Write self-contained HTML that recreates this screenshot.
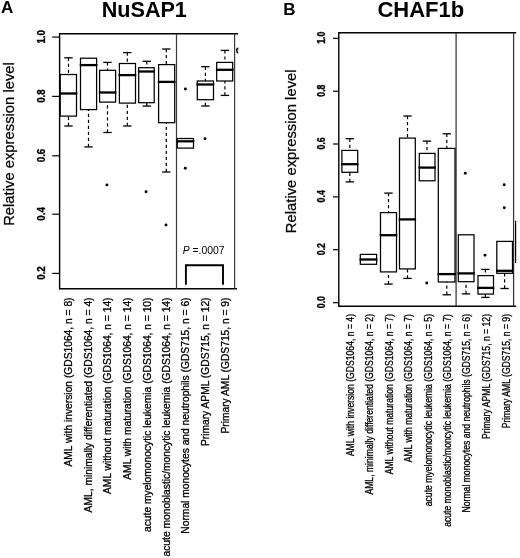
<!DOCTYPE html>
<html><head><meta charset="utf-8"><title>NuSAP1 and CHAF1b expression</title>
<style>
html,body{margin:0;padding:0;background:#fff;}
body{width:520px;height:558px;overflow:hidden;}
svg{display:block;}
text{font-family:"Liberation Sans", Arial, sans-serif;fill:#000;}
.fr{stroke:#000;stroke-width:1.4;}
.dv{stroke:#3a3a3a;stroke-width:1.2;}
.dvb{stroke:#333;stroke-width:1.25;}
.tk{stroke:#000;stroke-width:1.2;}
.bx{fill:none;stroke:#000;stroke-width:1.25;}
.md{stroke:#000;stroke-width:2.3;}
.w{stroke:#000;stroke-width:1.2;stroke-dasharray:3.2 2.8;}
.cap{stroke:#000;stroke-width:1.3;}
.pt{fill:#000;}
.hv{stroke:#000;stroke-width:0.3;}
.hv2{stroke:#000;stroke-width:0.35;}
.hv3{stroke:#000;stroke-width:0.25;}
</style></head>
<body>
<svg width="520" height="558" viewBox="0 0 520 558">
<rect width="520" height="558" fill="#fff"/>
<text x="1.0" y="12.7" font-size="17" font-weight="bold">A</text>
<text x="144.3" y="16.6" font-size="21.6" font-weight="bold" text-anchor="middle">NuSAP1</text>
<text transform="translate(13.6 144.0) rotate(-90)" text-anchor="middle" font-size="14.8" class="hv3">Relative expression level</text>
<line x1="59.6" y1="33.8" x2="238" y2="33.8" class="fr"/>
<line x1="59.6" y1="288.7" x2="237" y2="288.7" class="fr"/>
<line x1="59.6" y1="33.1" x2="59.6" y2="289.4" class="fr"/>
<line x1="234.6" y1="33.8" x2="234.6" y2="288.7" class="dv"/>
<line x1="176.5" y1="33.8" x2="176.5" y2="288.7" class="dv"/>
<path d="M238.3,48.2 C236.2,48.4 236.2,52.6 238.3,52.8" fill="none" stroke="#000" stroke-width="1.5"/>
<line x1="52.2" y1="37.1" x2="59.6" y2="37.1" class="tk"/>
<text transform="translate(44.6 36.800000000000004) rotate(-90) scale(0.92 1)" text-anchor="middle" font-size="10.6" font-weight="bold" class="hv2">1.0</text>
<line x1="52.2" y1="96.4" x2="59.6" y2="96.4" class="tk"/>
<text transform="translate(44.6 96.10000000000001) rotate(-90) scale(0.92 1)" text-anchor="middle" font-size="10.6" font-weight="bold" class="hv2">0.8</text>
<line x1="52.2" y1="155.8" x2="59.6" y2="155.8" class="tk"/>
<text transform="translate(44.6 155.5) rotate(-90) scale(0.92 1)" text-anchor="middle" font-size="10.6" font-weight="bold" class="hv2">0.6</text>
<line x1="52.2" y1="214.2" x2="59.6" y2="214.2" class="tk"/>
<text transform="translate(44.6 213.89999999999998) rotate(-90) scale(0.92 1)" text-anchor="middle" font-size="10.6" font-weight="bold" class="hv2">0.4</text>
<line x1="52.2" y1="273.4" x2="59.6" y2="273.4" class="tk"/>
<text transform="translate(44.6 273.09999999999997) rotate(-90) scale(0.92 1)" text-anchor="middle" font-size="10.6" font-weight="bold" class="hv2">0.2</text>
<line x1="68.5" y1="57.8" x2="68.5" y2="74.5" class="w"/>
<line x1="64.3" y1="57.8" x2="72.7" y2="57.8" class="cap"/>
<line x1="68.5" y1="126.0" x2="68.5" y2="116.1" class="w"/>
<line x1="64.3" y1="126.0" x2="72.7" y2="126.0" class="cap"/>
<rect x="60.2" y="74.5" width="16.30" height="41.60" class="bx"/>
<line x1="59.400000000000006" y1="93.5" x2="77.3" y2="93.5" class="md"/>
<line x1="88.5" y1="146.9" x2="88.5" y2="109.6" class="w"/>
<line x1="84.3" y1="146.9" x2="92.7" y2="146.9" class="cap"/>
<rect x="80.5" y="58.2" width="16.10" height="51.40" class="bx"/>
<line x1="79.7" y1="65.1" x2="97.39999999999999" y2="65.1" class="md"/>
<line x1="107.5" y1="62.4" x2="107.5" y2="70.3" class="w"/>
<line x1="103.3" y1="62.4" x2="111.7" y2="62.4" class="cap"/>
<line x1="107.5" y1="132.5" x2="107.5" y2="102.1" class="w"/>
<line x1="103.3" y1="132.5" x2="111.7" y2="132.5" class="cap"/>
<rect x="99.6" y="70.3" width="16.00" height="31.80" class="bx"/>
<line x1="98.8" y1="92.5" x2="116.39999999999999" y2="92.5" class="md"/>
<circle cx="106.9" cy="184.9" r="1.45" class="pt"/>
<line x1="127.3" y1="52.6" x2="127.3" y2="63.5" class="w"/>
<line x1="123.1" y1="52.6" x2="131.5" y2="52.6" class="cap"/>
<line x1="127.3" y1="126.0" x2="127.3" y2="103.1" class="w"/>
<line x1="123.1" y1="126.0" x2="131.5" y2="126.0" class="cap"/>
<rect x="119.4" y="63.5" width="16.10" height="39.60" class="bx"/>
<line x1="118.60000000000001" y1="75.1" x2="136.3" y2="75.1" class="md"/>
<line x1="146.8" y1="61.3" x2="146.8" y2="67.7" class="w"/>
<line x1="142.60000000000002" y1="61.3" x2="151.0" y2="61.3" class="cap"/>
<line x1="146.8" y1="106.1" x2="146.8" y2="102.7" class="w"/>
<line x1="142.60000000000002" y1="106.1" x2="151.0" y2="106.1" class="cap"/>
<rect x="138.7" y="67.7" width="15.50" height="35.00" class="bx"/>
<line x1="137.89999999999998" y1="71.5" x2="155.0" y2="71.5" class="md"/>
<circle cx="146.1" cy="191.7" r="1.45" class="pt"/>
<line x1="166.3" y1="49.0" x2="166.3" y2="64.6" class="w"/>
<line x1="162.10000000000002" y1="49.0" x2="170.5" y2="49.0" class="cap"/>
<line x1="166.3" y1="172.0" x2="166.3" y2="122.7" class="w"/>
<line x1="162.10000000000002" y1="172.0" x2="170.5" y2="172.0" class="cap"/>
<rect x="158.6" y="64.6" width="16.10" height="58.10" class="bx"/>
<line x1="157.79999999999998" y1="81.9" x2="175.5" y2="81.9" class="md"/>
<circle cx="166.0" cy="225.0" r="1.45" class="pt"/>
<rect x="177.3" y="138.5" width="16.20" height="9.60" class="bx"/>
<line x1="176.5" y1="141.3" x2="194.3" y2="141.3" class="md"/>
<circle cx="185.4" cy="89.0" r="1.45" class="pt"/>
<circle cx="185.3" cy="168.2" r="1.45" class="pt"/>
<line x1="205.4" y1="66.7" x2="205.4" y2="81.0" class="w"/>
<line x1="201.20000000000002" y1="66.7" x2="209.6" y2="66.7" class="cap"/>
<line x1="205.4" y1="106.0" x2="205.4" y2="99.7" class="w"/>
<line x1="201.20000000000002" y1="106.0" x2="209.6" y2="106.0" class="cap"/>
<rect x="197.3" y="81.0" width="16.20" height="18.70" class="bx"/>
<line x1="196.5" y1="84.5" x2="214.3" y2="84.5" class="md"/>
<circle cx="205.0" cy="138.8" r="1.45" class="pt"/>
<line x1="224.9" y1="50.4" x2="224.9" y2="62.4" class="w"/>
<line x1="220.70000000000002" y1="50.4" x2="229.1" y2="50.4" class="cap"/>
<line x1="224.9" y1="95.4" x2="224.9" y2="81.0" class="w"/>
<line x1="220.70000000000002" y1="95.4" x2="229.1" y2="95.4" class="cap"/>
<rect x="216.7" y="62.4" width="16.00" height="18.60" class="bx"/>
<line x1="215.89999999999998" y1="69.8" x2="233.5" y2="69.8" class="md"/>
<text x="182.7" y="254.3" font-size="10.4"><tspan font-style="italic">P</tspan> =.0007</text>
<path d="M185.9,284.7 V265.3 H223.0 V284.7" fill="none" stroke="#000" stroke-width="1.9"/>
<text transform="translate(72.2 297.5) rotate(-90)" text-anchor="end" font-size="10.25" class="hv">AML with inversion (GDS1064, n = 8)</text>
<text transform="translate(92.2 297.5) rotate(-90)" text-anchor="end" font-size="10.25" class="hv">AML, minimally differentiated (GDS1064, n = 4)</text>
<text transform="translate(111.2 297.5) rotate(-90)" text-anchor="end" font-size="10.25" class="hv">AML without maturation (GDS1064, n = 14)</text>
<text transform="translate(131.0 297.5) rotate(-90)" text-anchor="end" font-size="10.25" class="hv">AML with maturation (GDS1064, n = 14)</text>
<text transform="translate(150.5 297.5) rotate(-90)" text-anchor="end" font-size="10.25" class="hv">acute myelomonocytic leukemia (GDS1064, n = 10)</text>
<text transform="translate(170.0 297.5) rotate(-90)" text-anchor="end" font-size="10.25" class="hv">acute monoblastic/moncytic leukemia (GDS1064, n = 14)</text>
<text transform="translate(189.3 297.5) rotate(-90)" text-anchor="end" font-size="10.25" class="hv">Normal monocytes and neutrophils (GDS715, n = 6)</text>
<text transform="translate(209.2 297.5) rotate(-90)" text-anchor="end" font-size="10.25" class="hv">Primary APML (GDS715, n = 12)</text>
<text transform="translate(228.7 297.5) rotate(-90)" text-anchor="end" font-size="10.25" class="hv">Primary AML (GDS715, n = 9)</text>
<text x="283.2" y="14.5" font-size="17" font-weight="bold">B</text>
<text x="420.8" y="17.3" font-size="22" font-weight="bold" text-anchor="middle">CHAF1b</text>
<text transform="translate(296.4 151.3) rotate(-90)" text-anchor="middle" font-size="14.8" class="hv3">Relative expression level</text>
<line x1="338.8" y1="32.8" x2="516.2" y2="32.8" class="fr"/>
<line x1="338.8" y1="306.2" x2="516.2" y2="306.2" class="fr"/>
<line x1="338.8" y1="32.1" x2="338.8" y2="306.9" class="fr"/>
<line x1="513.6" y1="32.8" x2="513.6" y2="306.2" class="dvb"/>
<line x1="456.1" y1="32.8" x2="456.1" y2="306.2" class="dvb"/>
<line x1="515.6" y1="220.8" x2="515.6" y2="263.0" stroke="#000" stroke-width="1.2"/>
<line x1="333" y1="38.3" x2="338.8" y2="38.3" class="tk"/>
<text transform="translate(324.6 37.7) rotate(-90) scale(0.83 1)" text-anchor="middle" font-size="10.6" font-weight="bold" class="hv2">1.0</text>
<line x1="333" y1="91.2" x2="338.8" y2="91.2" class="tk"/>
<text transform="translate(324.6 90.6) rotate(-90) scale(0.83 1)" text-anchor="middle" font-size="10.6" font-weight="bold" class="hv2">0.8</text>
<line x1="333" y1="144.0" x2="338.8" y2="144.0" class="tk"/>
<text transform="translate(324.6 143.4) rotate(-90) scale(0.83 1)" text-anchor="middle" font-size="10.6" font-weight="bold" class="hv2">0.6</text>
<line x1="333" y1="196.9" x2="338.8" y2="196.9" class="tk"/>
<text transform="translate(324.6 196.3) rotate(-90) scale(0.83 1)" text-anchor="middle" font-size="10.6" font-weight="bold" class="hv2">0.4</text>
<line x1="333" y1="249.7" x2="338.8" y2="249.7" class="tk"/>
<text transform="translate(324.6 249.1) rotate(-90) scale(0.83 1)" text-anchor="middle" font-size="10.6" font-weight="bold" class="hv2">0.2</text>
<line x1="333" y1="302.7" x2="338.8" y2="302.7" class="tk"/>
<text transform="translate(324.6 302.1) rotate(-90) scale(0.83 1)" text-anchor="middle" font-size="10.6" font-weight="bold" class="hv2">0.0</text>
<line x1="349.8" y1="138.7" x2="349.8" y2="150.4" class="w"/>
<line x1="345.6" y1="138.7" x2="354.0" y2="138.7" class="cap"/>
<line x1="349.8" y1="181.9" x2="349.8" y2="172.3" class="w"/>
<line x1="345.6" y1="181.9" x2="354.0" y2="181.9" class="cap"/>
<rect x="341.9" y="150.4" width="15.80" height="21.90" class="bx"/>
<line x1="341.09999999999997" y1="164.2" x2="358.5" y2="164.2" class="md"/>
<rect x="360.3" y="254.4" width="16.30" height="9.90" class="bx"/>
<line x1="359.5" y1="259.5" x2="377.40000000000003" y2="259.5" class="md"/>
<line x1="388.5" y1="193.1" x2="388.5" y2="212.6" class="w"/>
<line x1="384.3" y1="193.1" x2="392.7" y2="193.1" class="cap"/>
<line x1="388.5" y1="284.1" x2="388.5" y2="271.9" class="w"/>
<line x1="384.3" y1="284.1" x2="392.7" y2="284.1" class="cap"/>
<rect x="380.5" y="212.6" width="16.00" height="59.30" class="bx"/>
<line x1="379.7" y1="235.2" x2="397.3" y2="235.2" class="md"/>
<line x1="407.5" y1="116.0" x2="407.5" y2="138.1" class="w"/>
<line x1="403.3" y1="116.0" x2="411.7" y2="116.0" class="cap"/>
<line x1="407.5" y1="278.4" x2="407.5" y2="268.9" class="w"/>
<line x1="403.3" y1="278.4" x2="411.7" y2="278.4" class="cap"/>
<rect x="399.5" y="138.1" width="15.80" height="130.80" class="bx"/>
<line x1="398.7" y1="219.4" x2="416.1" y2="219.4" class="md"/>
<line x1="427.0" y1="141.1" x2="427.0" y2="153.4" class="w"/>
<line x1="422.8" y1="141.1" x2="431.2" y2="141.1" class="cap"/>
<rect x="419.3" y="153.4" width="15.70" height="27.40" class="bx"/>
<line x1="418.5" y1="167.6" x2="435.8" y2="167.6" class="md"/>
<circle cx="426.7" cy="283.0" r="1.45" class="pt"/>
<line x1="446.8" y1="133.8" x2="446.8" y2="148.4" class="w"/>
<line x1="442.6" y1="133.8" x2="451.0" y2="133.8" class="cap"/>
<line x1="446.8" y1="294.8" x2="446.8" y2="282.0" class="w"/>
<line x1="442.6" y1="294.8" x2="451.0" y2="294.8" class="cap"/>
<rect x="438.3" y="148.4" width="16.70" height="133.60" class="bx"/>
<line x1="437.5" y1="274.1" x2="455.8" y2="274.1" class="md"/>
<line x1="466.0" y1="293.9" x2="466.0" y2="281.7" class="w"/>
<line x1="461.8" y1="293.9" x2="470.2" y2="293.9" class="cap"/>
<rect x="458.3" y="234.8" width="15.70" height="46.90" class="bx"/>
<line x1="457.5" y1="273.4" x2="474.8" y2="273.4" class="md"/>
<circle cx="465.3" cy="173.2" r="1.45" class="pt"/>
<line x1="485.4" y1="269.4" x2="485.4" y2="275.6" class="w"/>
<line x1="481.2" y1="269.4" x2="489.59999999999997" y2="269.4" class="cap"/>
<line x1="485.4" y1="297.4" x2="485.4" y2="294.1" class="w"/>
<line x1="481.2" y1="297.4" x2="489.59999999999997" y2="297.4" class="cap"/>
<rect x="478.0" y="275.6" width="15.50" height="18.50" class="bx"/>
<line x1="477.2" y1="287.9" x2="494.3" y2="287.9" class="md"/>
<circle cx="485.0" cy="255.3" r="1.45" class="pt"/>
<line x1="504.6" y1="288.5" x2="504.6" y2="273.3" class="w"/>
<line x1="500.40000000000003" y1="288.5" x2="508.8" y2="288.5" class="cap"/>
<rect x="496.8" y="241.4" width="15.70" height="31.90" class="bx"/>
<line x1="496.0" y1="270.8" x2="513.3" y2="270.8" class="md"/>
<circle cx="504.3" cy="207.7" r="1.45" class="pt"/>
<circle cx="504.2" cy="184.7" r="1.45" class="pt"/>
<text transform="translate(353.9 314.0) rotate(-90) scale(0.845 1)" text-anchor="end" font-size="10.2" class="hv">AML with inversion (GDS1064, n = 4)</text>
<text transform="translate(373.3 314.0) rotate(-90) scale(0.845 1)" text-anchor="end" font-size="10.2" class="hv">AML, minimally differentiated (GDS1064, n = 2)</text>
<text transform="translate(392.6 314.0) rotate(-90) scale(0.845 1)" text-anchor="end" font-size="10.2" class="hv">AML without maturation (GDS1064, n = 7)</text>
<text transform="translate(412.2 314.0) rotate(-90) scale(0.845 1)" text-anchor="end" font-size="10.2" class="hv">AML with maturation (GDS1064, n = 7)</text>
<text transform="translate(431.6 314.0) rotate(-90) scale(0.845 1)" text-anchor="end" font-size="10.2" class="hv">acute myelomonocytic leukemia (GDS1064, n = 5)</text>
<text transform="translate(450.5 314.0) rotate(-90) scale(0.845 1)" text-anchor="end" font-size="10.2" class="hv">acute monoblastic/moncytic leukemia (GDS1064, n = 7)</text>
<text transform="translate(469.6 314.0) rotate(-90) scale(0.845 1)" text-anchor="end" font-size="10.2" class="hv">Normal monocytes and neutrophils (GDS715, n = 6)</text>
<text transform="translate(489.8 314.0) rotate(-90) scale(0.845 1)" text-anchor="end" font-size="10.2" class="hv">Primary APML (GDS715, n = 12)</text>
<text transform="translate(509.7 314.0) rotate(-90) scale(0.845 1)" text-anchor="end" font-size="10.2" class="hv">Primary AML (GDS715, n = 9)</text>
</svg>
</body></html>
